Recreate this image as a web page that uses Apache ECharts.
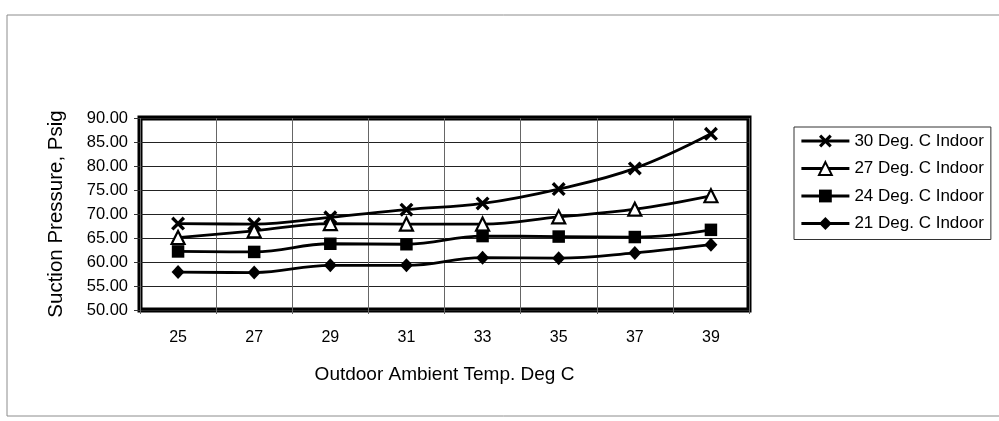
<!DOCTYPE html>
<html>
<head>
<meta charset="utf-8">
<script src="https://cdn.jsdelivr.net/npm/echarts@6/dist/echarts.min.js"></script>
<style>
  html, body { margin: 0; padding: 0; background: #fff; }
  #chart { width: 999px; height: 421px; }
</style>
</head>
<body>
<div id="chart"></div>
<script>
// Outdoor ambient temperature (deg C) on the category axis
const categories = ['25', '27', '29', '31', '33', '35', '37', '39'];

// Suction pressure (psig) for each indoor temperature
const indoor30 = [68.0, 67.9, 69.3, 70.9, 72.2, 75.2, 79.5, 86.7];
const indoor27 = [65.1, 66.5, 68.0, 67.9, 67.9, 69.4, 71.0, 73.8];
const indoor24 = [62.2, 62.1, 63.8, 63.7, 65.4, 65.3, 65.2, 66.7];
const indoor21 = [57.9, 57.8, 59.3, 59.3, 60.9, 60.8, 61.9, 63.6];

const seriesNames = ['30 Deg. C Indoor', '27 Deg. C Indoor', '24 Deg. C Indoor', '21 Deg. C Indoor'];

const FONT = '"Liberation Sans", Arial, sans-serif';
// Filled "X" outline used as the marker for the 30 deg series
const CROSS = 'path://M0,1.7 L1.7,0 L5,3.3 L8.3,0 L10,1.7 L6.7,5 L10,8.3 L8.3,10 L5,6.7 L1.7,10 L0,8.3 L3.3,5 Z';

function lineSeries(name, data, symbol, size, itemStyle) {
  return {
    name: name,
    type: 'line',
    data: data,
    smooth: 0.4,
    symbol: symbol,
    symbolSize: size,
    showAllSymbol: true,
    lineStyle: { color: '#000', width: 2.8 },
    itemStyle: itemStyle,
    emphasis: { disabled: true }
  };
}

const chart = echarts.init(document.getElementById('chart'), null, { renderer: 'canvas' });

chart.setOption({
  animation: false,
  backgroundColor: '#fff',
  textStyle: { fontFamily: FONT },
  graphic: [{
    type: 'rect',
    silent: true,
    z: -10,
    shape: { x: 7, y: 15, width: 1000, height: 401 },
    style: { fill: 'none', stroke: '#8c8c8c', lineWidth: 1 }
  }],
  grid: {
    left: 140, right: 250, top: 118, bottom: 111,
    show: true,
    backgroundColor: '#fff',
    borderColor: '#000',
    borderWidth: 5
  },
  legend: {
    orient: 'vertical',
    left: 794,
    top: 127,
    itemWidth: 48,
    itemHeight: 16,
    itemGap: 5.5,
    itemTextGap: 2,
    padding: [3, 7, 5, 6],
    borderColor: '#333',
    borderWidth: 1,
    backgroundColor: '#fff',
    lineStyle: { color: '#000', width: 2.8 },
    textStyle: { fontFamily: FONT, fontSize: 17, color: '#000', lineHeight: 22 },
    data: seriesNames
  },
  xAxis: {
    type: 'category',
    data: categories,
    boundaryGap: true,
    axisLine: { show: false },
    axisTick: { show: true, length: 4, lineStyle: { color: '#666' } },
    splitLine: { show: true, lineStyle: { color: '#666', width: 1 } },
    axisLabel: { fontFamily: FONT, fontSize: 16, color: '#000', margin: 20 },
    name: 'Outdoor Ambient Temp. Deg C',
    nameLocation: 'middle',
    nameGap: 55,
    nameTextStyle: { fontFamily: FONT, fontSize: 19, color: '#000' }
  },
  yAxis: {
    type: 'value',
    min: 50,
    max: 90,
    interval: 5,
    axisLine: { show: false },
    axisTick: { show: true, length: 6, lineStyle: { color: '#333' } },
    splitLine: { show: true, lineStyle: { color: '#222', width: 1.2 } },
    axisLabel: {
      fontFamily: FONT, fontSize: 16.5, color: '#000', margin: 12,
      formatter: function (v) { return v.toFixed(2); }
    },
    name: 'Suction Pressure, Psig',
    nameLocation: 'middle',
    nameGap: 73,
    nameRotate: 90,
    nameTextStyle: { fontFamily: FONT, fontSize: 20.5, color: '#000' }
  },
  series: [
    lineSeries(seriesNames[0], indoor30, CROSS, 14, { color: '#000' }),
    lineSeries(seriesNames[1], indoor27, 'triangle', 13, { color: '#fff', borderColor: '#000', borderWidth: 2.2 }),
    lineSeries(seriesNames[2], indoor24, 'rect', 12.5, { color: '#000' }),
    lineSeries(seriesNames[3], indoor21, 'diamond', [13, 14], { color: '#000' })
  ]
});
</script>
</body>
</html>
